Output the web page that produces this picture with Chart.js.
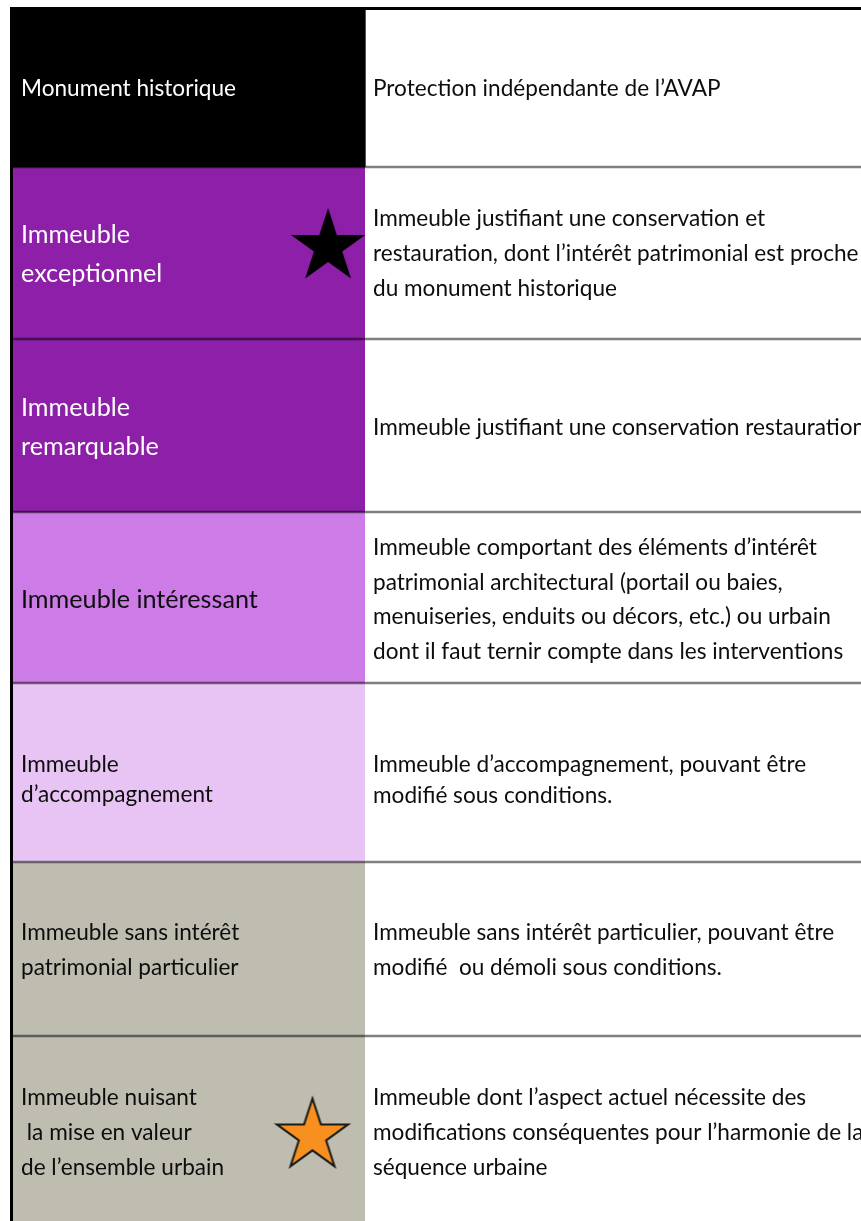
<!DOCTYPE html>
<html lang="fr">
<head>
<meta charset="utf-8">
<title>Catégories de protection</title>
<script src="https://cdn.jsdelivr.net/npm/chart.js@4.4.1/dist/chart.umd.min.js"></script>
<style>
  html, body { margin: 0; padding: 0; background: #fff; overflow: hidden; }
  #wrap { width: 861px; height: 1221px; }
</style>
</head>
<body>
<div id="wrap"><canvas id="chart" width="861" height="1221"></canvas></div>
<script>
// one entry per row of the table, top to bottom
const categories = [
  ['Monument historique'],
  ['Immeuble', 'exceptionnel'],
  ['Immeuble', 'remarquable'],
  ['Immeuble intéressant'],
  ['Immeuble', 'd’accompagnement'],
  ['Immeuble sans intérêt', 'patrimonial particulier'],
  ['Immeuble nuisant', ' la mise en valeur', 'de l’ensemble urbain']
];
const descriptions = [
  ['Protection indépendante de l’AVAP'],
  ['Immeuble justifiant une conservation et', 'restauration, dont l’intérêt patrimonial est proche', 'du monument historique'],
  ['Immeuble justifiant une conservation restauration'],
  ['Immeuble comportant des éléments d’intérêt', 'patrimonial architectural (portail ou baies,', 'menuiseries, enduits ou décors, etc.) ou urbain', 'dont il faut ternir compte dans les interventions'],
  ['Immeuble d’accompagnement, pouvant être', 'modifié sous conditions.'],
  ['Immeuble sans intérêt particulier, pouvant être', 'modifié  ou démoli sous conditions.'],
  ['Immeuble dont l’aspect actuel nécessite des', 'modifications conséquentes pour l’harmonie de la', 'séquence urbaine']
];
const rowHeights = [160, 172, 173, 171, 179, 174, 185];
const rowColors = ['#000000', '#8d1fa8', '#8d1fa8', '#cd7be6', '#e8c4f4', '#bebdb0', '#bebdb0'];
const labelColors = ['#ffffff', '#ffffff', '#ffffff', '#0d0d0d', '#0d0d0d', '#0d0d0d', '#0d0d0d'];
// star markers: position across the left column (0-1) and down the table
const starX = [0.896, 0.852];
const starY = [240, 1129];

// row limits built from the heights
const rowStarts = [];
const rowEnds = [];
let acc = 0;
rowHeights.forEach(h => { rowStarts.push(acc); acc += h; rowEnds.push(acc); });
const total = acc;

function makeStar(size, r, fill, stroke, lw) {
  const c = document.createElement('canvas');
  c.width = c.height = size;
  const g = c.getContext('2d');
  g.beginPath();
  for (let k = 0; k < 10; k++) {
    const rad = k % 2 ? r * 0.382 : r;
    const a = -Math.PI / 2 + k * Math.PI / 5;
    g.lineTo(size / 2 + rad * Math.cos(a), size / 2 + rad * Math.sin(a));
  }
  g.closePath();
  g.fillStyle = fill;
  g.fill();
  if (stroke) {
    g.lineWidth = lw;
    g.strokeStyle = stroke;
    g.lineJoin = 'miter';
    g.stroke();
  }
  return c;
}
const starStyles = [
  makeStar(84, 39, '#000000'),
  makeStar(84, 37.5, '#f7901e', '#1a1a1a', 2)
];

const tablePlugin = {
  id: 'tableText',
  afterDatasetsDraw(chart, args, opts) {
    const ctx = chart.ctx;
    const y = chart.scales.y;
    const area = chart.chartArea;
    ctx.save();

    // thin line between the black cell and the white one
    ctx.strokeStyle = '#555';
    ctx.lineWidth = 1;
    ctx.beginPath();
    ctx.moveTo(area.right + 0.5, y.getPixelForValue(rowStarts[0]));
    ctx.lineTo(area.right + 0.5, y.getPixelForValue(rowEnds[0]));
    ctx.stroke();

    // row separators over both columns
    ctx.strokeStyle = 'rgba(0,0,0,0.5)';
    ctx.lineWidth = 2.5;
    rowEnds.slice(0, -1).forEach(v => {
      const py = y.getPixelForValue(v);
      ctx.beginPath();
      ctx.moveTo(area.left, py);
      ctx.lineTo(chart.width, py);
      ctx.stroke();
    });

    // outer border, top and left
    ctx.fillStyle = '#000';
    ctx.fillRect(area.left, area.top, chart.width - area.left, 3);
    ctx.fillRect(area.left, area.top, 3, area.bottom - area.top);

    const drawBlock = (lines, x, center, size, lead, color) => {
      ctx.font = size + 'px Lato, "Open Sans", sans-serif';
      ctx.fillStyle = color;
      ctx.textAlign = 'left';
      ctx.textBaseline = 'alphabetic';
      const cap = size * 0.72;
      lines.forEach((t, k) => {
        const by = center + (k - (lines.length - 1) / 2) * lead + cap / 2;
        ctx.fillText(t, x, by);
      });
    };

    categories.forEach((lines, i) => {
      const mid = (y.getPixelForValue(rowStarts[i]) + y.getPixelForValue(rowEnds[i])) / 2;
      drawBlock(lines, area.left + opts.labelPad, mid + opts.labelShift[i],
        opts.labelSize[i], opts.labelLead[i], labelColors[i]);
      drawBlock(descriptions[i], area.right + opts.descPad, mid + opts.descShift[i],
        opts.descSize, opts.descLead[i], '#0d0d0d');
    });
    ctx.restore();
  }
};

const datasets = [{
  type: 'scatter',
  xAxisID: 'xs',
  yAxisID: 'y',
  order: 0,
  clip: false,
  data: starX.map((v, i) => ({ x: v, y: starY[i] })),
  pointStyle: starStyles,
  pointRadius: 39,
  pointHoverRadius: 39
}];
rowHeights.forEach((h, i) => {
  datasets.push({
    type: 'bar',
    label: categories[i].join(' '),
    xAxisID: 'xc',
    yAxisID: 'y',
    order: 1,
    data: [[rowStarts[i], rowEnds[i]]],
    backgroundColor: rowColors[i],
    borderWidth: 0,
    grouped: false,
    barPercentage: 1,
    categoryPercentage: 1
  });
});

new Chart(document.getElementById('chart'), {
  type: 'bar',
  data: { labels: ['Catégorie'], datasets: datasets },
  options: {
    responsive: false,
    animation: false,
    events: [],
    layout: { autoPadding: false, padding: { left: 10, top: 7, right: 496, bottom: 0 } },
    scales: {
      xc: { type: 'category', display: false, offset: true },
      xs: { type: 'linear', display: false, offset: false, grace: 0, min: 0, max: 1 },
      y: { type: 'linear', display: false, reverse: true, min: 0, max: total }
    },
    plugins: {
      legend: { display: false },
      tooltip: { enabled: false },
      tableText: {
        labelPad: 11,
        descPad: 8,
        labelSize: [22.6, 25.2, 25.2, 25.2, 22.6, 22.6, 22.6],
        labelLead: [35, 38.5, 39, 35, 30, 34.5, 35],
        labelShift: [1, 0.5, 1, 1.5, 6.5, 0.5, 3.5],
        descSize: 22.6,
        descLead: [35, 35, 35, 34.7, 31, 34.5, 35],
        descShift: [1, 0, 1.5, 1.5, 7, 0.5, 3.5]
      }
    }
  },
  plugins: [tablePlugin]
});
</script>
</body>
</html>
